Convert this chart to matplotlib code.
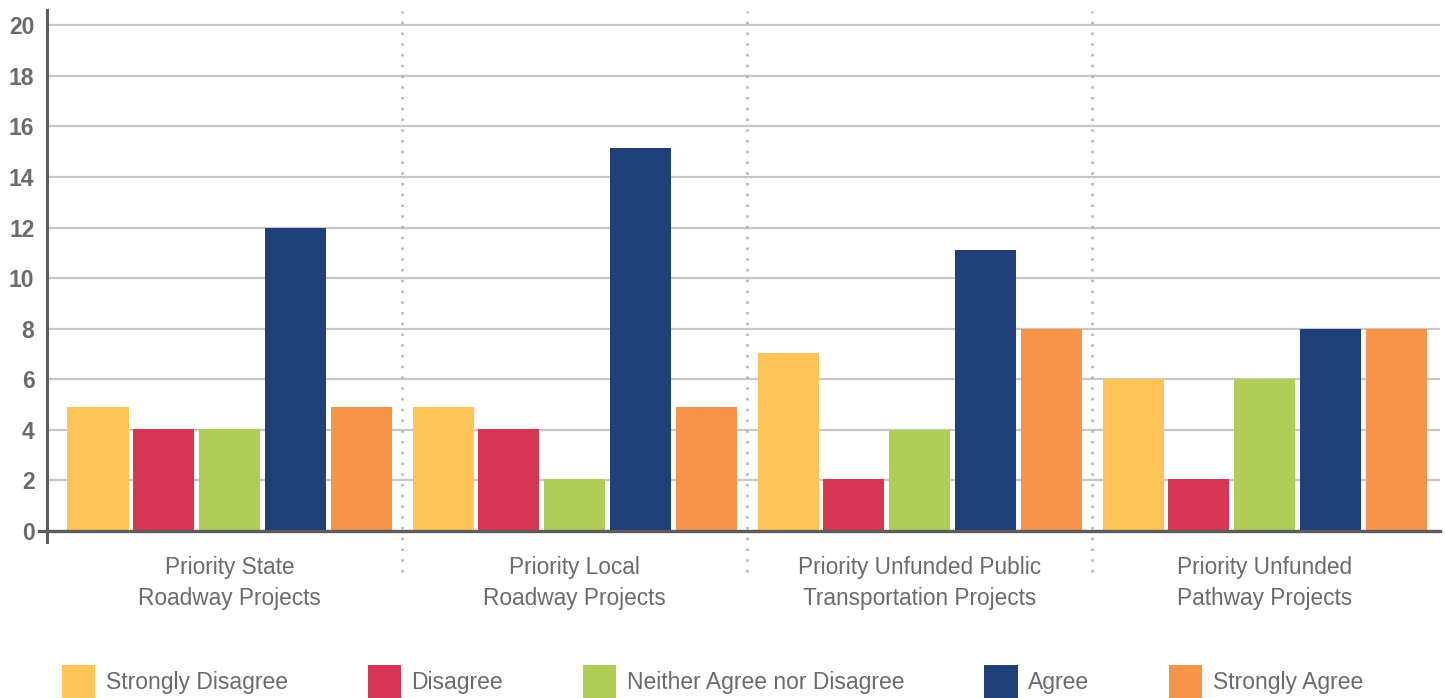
import numpy as np
import matplotlib
matplotlib.use('Agg')
import matplotlib.pyplot as plt

plt.rcParams['font.family'] = ['Liberation Sans', 'DejaVu Sans']

# survey responses per project category
categories = ['Priority State\nRoadway Projects',
              'Priority Local\nRoadway Projects',
              'Priority Unfunded Public\nTransportation Projects',
              'Priority Unfunded\nPathway Projects']
responses = ['Strongly Disagree', 'Disagree', 'Neither Agree nor Disagree',
             'Agree', 'Strongly Agree']
strongly_disagree = [4.9, 4.9, 7.05, 6.0]
disagree = [4.05, 4.05, 2.05, 2.05]
neither = [4.05, 2.05, 4.0, 6.0]
agree = [12.0, 15.15, 11.1, 8.0]
strongly_agree = [4.9, 4.9, 8.0, 8.0]
yticks = [0, 2, 4, 6, 8, 10, 12, 14, 16, 18, 20]

series = [strongly_disagree, disagree, neither, agree, strongly_agree]
colors = ['#FEC458', '#D53654', '#B0CE57', '#1E3F77', '#F69449']
text_gray = '#6b6b6b'

fig = plt.figure(figsize=(14.45, 6.98), dpi=100)
ax = fig.add_axes([47/1445, 0.2229, 1393/1445, 0.9857 - 0.2229])

x = np.arange(len(categories))
step = 0.1906
width = 0.177
handles = []
for i, (vals, col, name) in enumerate(zip(series, colors, responses)):
    b = ax.bar(x + (i - 2) * step, vals, width, color=col, label=name, zorder=3)
    handles.append(b)

ax.set_xlim(-0.529, 3.508)
ax.set_ylim(-0.45, 20.6)

# grid
ax.set_yticks(yticks)
ax.yaxis.grid(True, color='#c8c8ca', linewidth=1.6, zorder=0)
ax.set_axisbelow(True)
ax.tick_params(axis='y', length=0, pad=9, labelsize=16.5, labelcolor=text_gray)
for lab in ax.get_yticklabels():
    lab.set_fontweight('bold')

ax.set_xticks(x)
ax.set_xticklabels(categories, fontsize=16.3, color=text_gray, linespacing=1.45)
ax.tick_params(axis='x', length=0, pad=10)

for s in ['top', 'right', 'bottom']:
    ax.spines[s].set_visible(False)
ax.spines['left'].set_color('#5c5c5c')
ax.spines['left'].set_linewidth(2.2)

# baseline with the small tick poking left
ax.axhline(0, xmin=-8/1393, xmax=1, color='#5c5c5c', linewidth=2.4,
           clip_on=False, zorder=4)

# dotted separators between groups
for sx in [0.5, 1.5, 2.5]:
    ax.plot([sx, sx], [-1.62, 20.55], color='#b4b4b4', linewidth=1.8,
            linestyle=(0, (1, 3.3)), clip_on=False, zorder=2)

fig.legend(handles=handles, labels=responses, loc='upper left',
           bbox_to_anchor=(62/1445, 1 - 665/698), ncol=5, frameon=False,
           fontsize=16.5, labelcolor=text_gray, handlelength=1.45,
           handleheight=1.9, handletextpad=0.45, columnspacing=3.5,
           borderpad=0, borderaxespad=0)

fig.savefig('out.png', dpi=100)
